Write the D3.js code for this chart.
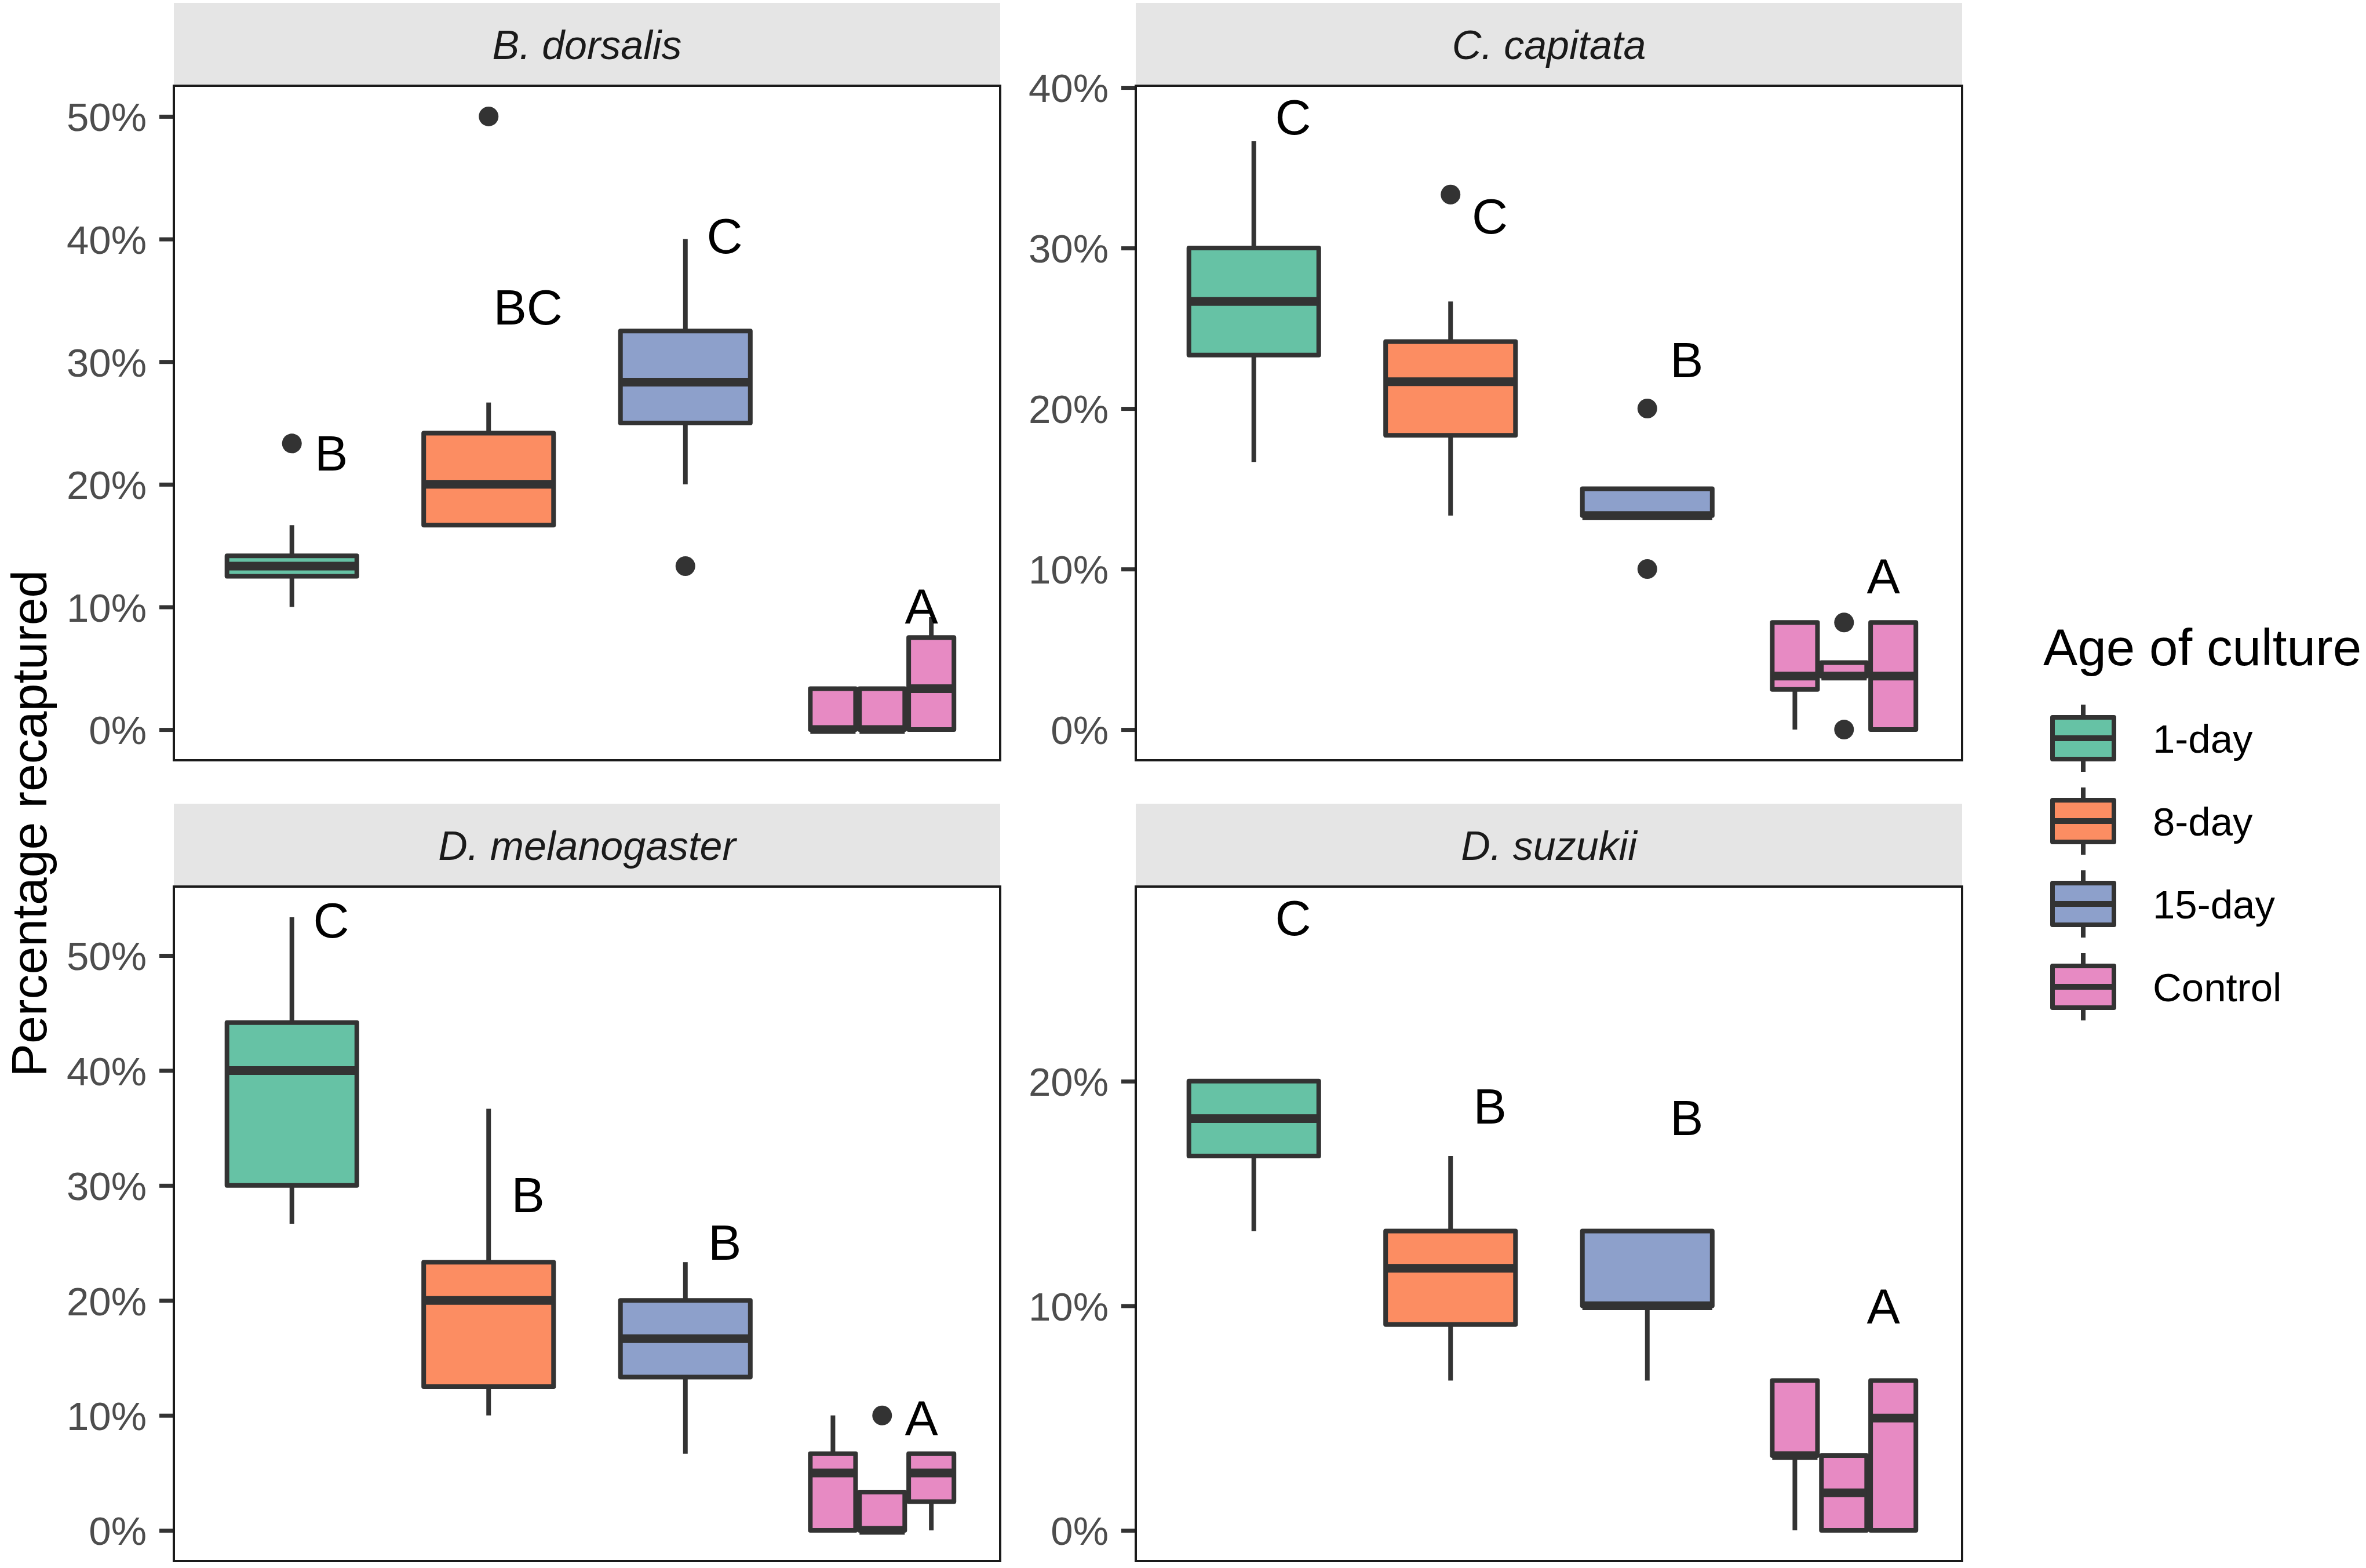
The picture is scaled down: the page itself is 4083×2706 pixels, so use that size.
<!DOCTYPE html>
<html><head><meta charset="utf-8">
<script src="https://cdn.jsdelivr.net/npm/d3@7"></script>
<style>
body{margin:0;background:#fff}
svg{display:block}
text{font-family:"Liberation Sans",Arial,Helvetica,sans-serif}
</style>
</head><body>
<svg id="chart" width="4083" height="2706"></svg>
<script>
// ---------------- DATA ----------------
const species = ["B. dorsalis", "C. capitata", "D. melanogaster", "D. suzukii"];
const ages = ["1-day", "8-day", "15-day", "Control"];
const ageColors = ["#66C2A5", "#FC8D62", "#8DA0CB", "#E78AC3"];
const controlSubs = ["rep1", "rep2", "rep3"];

// five-number summaries [lower whisker, Q1, median, Q3, upper whisker] in %
// order: 1-day, 8-day, 15-day, Control rep1, Control rep2, Control rep3
const bDorsalisStats = [
  [10, 12.5, 13.33, 14.17, 16.67],
  [16.67, 16.67, 20, 24.17, 26.67],
  [20, 25, 28.33, 32.5, 40],
  [0, 0, 0, 3.33, 3.33],
  [0, 0, 0, 3.33, 3.33],
  [0, 0, 3.33, 7.5, 9.17]
];
const cCapitataStats = [
  [16.67, 23.33, 26.67, 30, 36.67],
  [13.33, 18.33, 21.67, 24.17, 26.67],
  [13.33, 13.33, 13.33, 15, 15],
  [0, 2.5, 3.33, 6.67, 6.67],
  [3.33, 3.33, 3.33, 4.17, 4.17],
  [0, 0, 3.33, 6.67, 6.67]
];
const dMelanogasterStats = [
  [26.67, 30, 40, 44.17, 53.33],
  [10, 12.5, 20, 23.33, 36.67],
  [6.67, 13.33, 16.67, 20, 23.33],
  [0, 0, 5, 6.67, 10],
  [0, 0, 0, 3.33, 3.33],
  [0, 2.5, 5, 6.67, 6.67]
];
const dSuzukiiStats = [
  [13.33, 16.67, 18.33, 20, 20],
  [6.67, 9.17, 11.67, 13.33, 16.67],
  [6.67, 10, 10, 13.33, 13.33],
  [0, 3.33, 3.33, 6.67, 6.67],
  [0, 0, 1.67, 3.33, 3.33],
  [0, 0, 5, 6.67, 6.67]
];

// outliers per box (same order as stats)
const bDorsalisOutliers = [[23.33], [50], [13.33], [], [], []];
const cCapitataOutliers = [[], [33.33], [20, 10], [], [6.67, 0], []];
const dMelanogasterOutliers = [[], [], [], [], [10], []];
const dSuzukiiOutliers = [[], [], [], [], [], []];

// significance letters per age group and their y value (%)
const bDorsalisLetters = ["B", "BC", "C", "A"];
const bDorsalisLetterY = [22.6, 34.5, 40.3, 10.1];
const cCapitataLetters = ["C", "C", "B", "A"];
const cCapitataLetterY = [38.2, 32.0, 23.05, 9.6];
const dMelanogasterLetters = ["C", "B", "B", "A"];
const dMelanogasterLetterY = [53.1, 29.2, 25.1, 9.8];
const dSuzukiiLetters = ["C", "B", "B", "A"];
const dSuzukiiLetterY = [27.3, 18.9, 18.4, 10.0];

// y-axis tick labels per panel (%)
const bDorsalisTicks = [0, 10, 20, 30, 40, 50];
const cCapitataTicks = [0, 10, 20, 30, 40];
const dMelanogasterTicks = [0, 10, 20, 30, 40, 50];
const dSuzukiiTicks = [0, 10, 20];

const yTitle = "Percentage recaptured";
const legendTitle = "Age of culture";

// ---------------- LAYOUT ----------------
const panelW = 1426, panelH = 1164, stripH = 143;
const panelOrigins = [[300, 148], [1960, 148], [300, 1530], [1960, 1530]];
const boxStroke = 8, medianStroke = 15, dark = "#333333";

const panelData = [
  {name: species[0], stats: bDorsalisStats, out: bDorsalisOutliers, letters: bDorsalisLetters, ly: bDorsalisLetterY, ticks: bDorsalisTicks},
  {name: species[1], stats: cCapitataStats, out: cCapitataOutliers, letters: cCapitataLetters, ly: cCapitataLetterY, ticks: cCapitataTicks},
  {name: species[2], stats: dMelanogasterStats, out: dMelanogasterOutliers, letters: dMelanogasterLetters, ly: dMelanogasterLetterY, ticks: dMelanogasterTicks},
  {name: species[3], stats: dSuzukiiStats, out: dSuzukiiOutliers, letters: dSuzukiiLetters, ly: dSuzukiiLetterY, ticks: dSuzukiiTicks}
];

const svg = d3.select("#chart");
svg.append("rect").attr("width", 4083).attr("height", 2706).attr("fill", "#fff");

panelData.forEach((p, pi) => {
  const [x0, y0] = panelOrigins[pi];
  const g = svg.append("g").attr("transform", `translate(${x0},${y0})`);

  const allVals = p.stats.flat().concat(p.out.flat()).concat(p.ly);
  const vmin = Math.min(0, d3.min(allVals)), vmax = d3.max(allVals);
  const pad = (vmax - vmin) * 0.05;
  const y = d3.scaleLinear().domain([vmin - pad, vmax + pad]).range([panelH, 0]);
  const x = d3.scalePoint().domain(ages).range([0, panelW]).padding(0.6);
  const step = x.step();
  const subX = d3.scalePoint().domain(controlSubs).range([-0.25 * step, 0.25 * step]);

  // strip
  g.append("rect").attr("x", 0).attr("y", -stripH).attr("width", panelW).attr("height", stripH).attr("fill", "#E5E5E5");
  g.append("text").attr("x", panelW / 2).attr("y", -stripH / 2 + 25)
    .attr("text-anchor", "middle").attr("font-size", 70).attr("font-style", "italic")
    .attr("fill", "#1A1A1A").text(p.name);

  // y axis
  const ax = g.append("g").call(d3.axisLeft(y).tickValues(p.ticks).tickFormat(d => d + "%").tickSize(25).tickPadding(22));
  ax.select(".domain").remove();
  ax.selectAll(".tick line").attr("stroke", dark).attr("stroke-width", 7);
  ax.selectAll(".tick text").attr("fill", "#4D4D4D").attr("font-size", 69).attr("dy", "0.36em")
    .attr("font-family", "'Liberation Sans',Arial,sans-serif");

  // boxes
  const boxes = p.stats.map((s, i) => {
    const isCtrl = i >= 3;
    const cx = isCtrl ? x(ages[3]) + subX(controlSubs[i - 3]) : x(ages[i]);
    const w = isCtrl ? 0.23 * step : 0.66 * step;
    return {s, cx, w, color: isCtrl ? ageColors[3] : ageColors[i], out: p.out[i]};
  });

  boxes.forEach(b => {
    const [lo, q1, med, q3, hi] = b.s;
    const bg = g.append("g");
    bg.append("line").attr("x1", b.cx).attr("x2", b.cx).attr("y1", y(hi)).attr("y2", y(q3))
      .attr("stroke", dark).attr("stroke-width", boxStroke);
    bg.append("line").attr("x1", b.cx).attr("x2", b.cx).attr("y1", y(q1)).attr("y2", y(lo))
      .attr("stroke", dark).attr("stroke-width", boxStroke);
    bg.append("rect").attr("x", b.cx - b.w / 2).attr("width", b.w)
      .attr("y", y(q3)).attr("height", Math.max(0.001, y(q1) - y(q3)))
      .attr("fill", b.color).attr("stroke", dark).attr("stroke-width", boxStroke)
      .attr("stroke-linejoin", "round");
    bg.append("line").attr("x1", b.cx - b.w / 2).attr("x2", b.cx + b.w / 2).attr("y1", y(med)).attr("y2", y(med))
      .attr("stroke", dark).attr("stroke-width", medianStroke);
    b.out.forEach(o => {
      bg.append("circle").attr("cx", b.cx).attr("cy", y(o)).attr("r", 17).attr("fill", dark);
    });
  });

  // letters
  p.letters.forEach((t, i) => {
    g.append("text").attr("x", x(ages[i]) + 0.2 * step).attr("y", y(p.ly[i]) + 0.358 * 86)
      .attr("text-anchor", "middle").attr("font-size", 86).attr("fill", "#000").text(t);
  });

  // panel border
  g.append("rect").attr("width", panelW).attr("height", panelH).attr("fill", "none")
    .attr("stroke", "#1A1A1A").attr("stroke-width", 4);
});

// y axis title
svg.append("text").attr("transform", "translate(80,1421) rotate(-90)")
  .attr("text-anchor", "middle").attr("font-size", 86).attr("fill", "#000").text(yTitle);

// legend
const lg = svg.append("g");
lg.append("text").attr("x", 3526).attr("y", 1148).attr("font-size", 89).attr("fill", "#000").text(legendTitle);
const keyY = d3.scalePoint().domain(ages).range([1274, 1274 + 3 * 143]);
ages.forEach((a, i) => {
  const cy = keyY(a), cx = 3595;
  lg.append("line").attr("x1", cx).attr("x2", cx).attr("y1", cy - 58).attr("y2", cy + 58)
    .attr("stroke", dark).attr("stroke-width", boxStroke);
  lg.append("rect").attr("x", cx - 53).attr("y", cy - 36).attr("width", 106).attr("height", 72)
    .attr("fill", ageColors[i]).attr("stroke", dark).attr("stroke-width", boxStroke).attr("stroke-linejoin", "round");
  lg.append("line").attr("x1", cx - 53).attr("x2", cx + 53).attr("y1", cy).attr("y2", cy)
    .attr("stroke", dark).attr("stroke-width", 10);
  lg.append("text").attr("x", 3715).attr("y", cy + 25).attr("font-size", 69).attr("fill", "#000").text(a);
});
</script>
</body></html>
